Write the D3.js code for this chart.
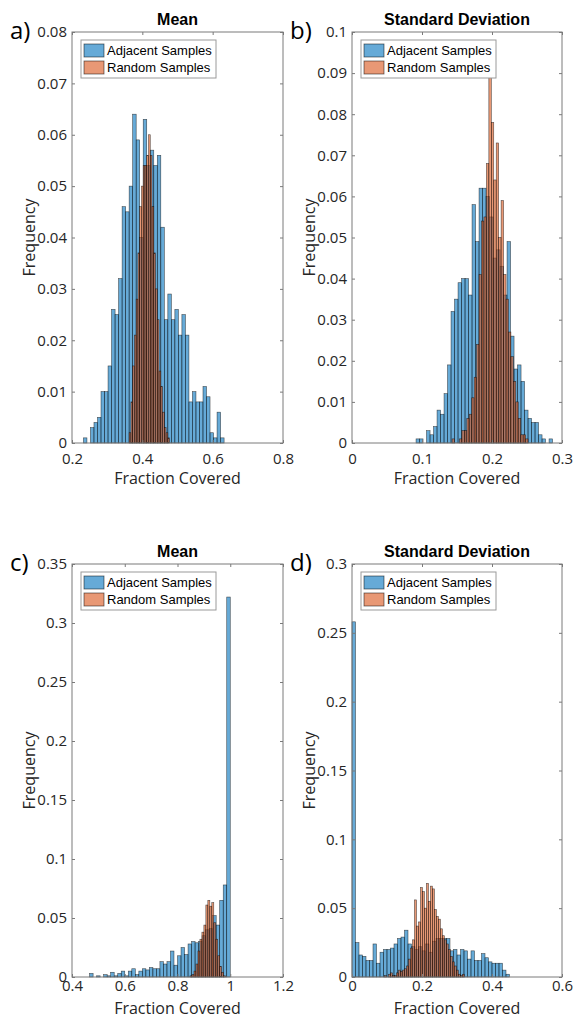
<!DOCTYPE html>
<html>
<head>
<meta charset="utf-8">
<script src="https://cdn.jsdelivr.net/npm/d3@7"></script>
<style>
body { margin: 0; background: #fff; }
.tick text { font-family: "Open Sans", "Liberation Sans", sans-serif; font-size: 15px; fill: #262626; }
.tick line { stroke: #7a7a7a; }
.lab { font-family: "Open Sans", "Liberation Sans", sans-serif; font-size: 16px; fill: #262626; }
.ttl { font-family: "Liberation Sans", Arial, sans-serif; font-size: 16px; font-weight: bold; fill: #000; }
.leg { font-family: "Liberation Sans", Arial, sans-serif; font-size: 13px; fill: #000; }
.pan { font-family: "Open Sans", sans-serif; font-size: 24px; fill: #000; }
</style>
</head>
<body>
<script>
// ---- data (frequency per bin) ----
// a) mean, top row
var aAdjStart = 0.2325, aAdjWidth = 0.01;
var aAdj = [0.001, 0, 0.003, 0.004, 0.005, 0.010, 0.010, 0.015, 0.026, 0.025,
            0.032, 0.046, 0.045, 0.050, 0.064, 0.059, 0.040, 0.063, 0.054, 0.057,
            0.054, 0.056, 0.042, 0.024, 0.029, 0.024, 0.026, 0.021, 0.025, 0.021,
            0.008, 0.010, 0.008, 0.008, 0.011, 0.009, 0.002, 0.001, 0.006, 0.001];
var aRndStart = 0.3625, aRndWidth = 0.005;
var aRnd = [0.002, 0.008, 0.015, 0.021, 0.028, 0.037, 0.046, 0.050, 0.054, 0.054,
            0.056, 0.060, 0.056, 0.046, 0.037, 0.030, 0.024, 0.014, 0.011, 0.006,
            0.003, 0.002, 0.001];

// b) standard deviation, top row
var bAdjStart = 0.0915, bAdjWidth = 0.005;
var bAdj = [0.001, 0.001, 0, 0.003, 0.002, 0.004, 0.008, 0.007, 0.012, 0.019,
            0.032, 0.035, 0.039, 0.040, 0.040, 0.036, 0.058, 0.049, 0.062, 0.062,
            0.060, 0.055, 0.045, 0.047, 0.043, 0.036, 0.049, 0.026, 0.018, 0.019,
            0.015, 0.008, 0.006, 0.005, 0.005, 0.002, 0.001, 0, 0.001];
var bRndStart = 0.1395, bRndWidth = 0.0035;
var bRnd = [0, 0.001, 0, 0, 0.001, 0.003, 0.003, 0.006, 0.007, 0.011,
            0.016, 0.024, 0.041, 0.054, 0.055, 0.068, 0.089, 0.078, 0.064, 0.073,
            0.050, 0.059, 0.041, 0.035, 0.027, 0.021, 0.015, 0.010, 0.006, 0.002,
            0.002, 0.001];

// c) mean, bottom row
var cAdjStart = 0.4667, cAdjWidth = 0.013333;
var cAdj = [0.003, 0, 0.001, 0, 0.002, 0.001, 0.004, 0.001, 0.003, 0.005,
            0.001, 0.005, 0.007, 0.002, 0.005, 0.007, 0.006, 0.008, 0.007, 0.007,
            0.013, 0.011, 0.013, 0.022, 0.010, 0.018, 0.025, 0.019, 0.028, 0.030,
            0.029, 0.030, 0.035, 0.040, 0.041, 0.052, 0.044, 0.065, 0.078, 0.322];
var cRndStart = 0.8475, cRndWidth = 0.0075;
var cRnd = [0.001, 0.002, 0.005, 0.011, 0.022, 0.032, 0.038, 0.044, 0.061, 0.065,
            0.060, 0.063, 0.046, 0.032, 0.018, 0.009, 0.004, 0.001];

// d) standard deviation, bottom row
var dAdjStart = 0, dAdjWidth = 0.01;
var dAdj = [0.258, 0.025, 0.016, 0.015, 0.012, 0.012, 0.024, 0.010, 0.018, 0.020,
            0.020, 0.021, 0.024, 0.028, 0.029, 0.034, 0.024, 0.022, 0.020, 0.022,
            0.019, 0.024, 0.018, 0.026, 0.028, 0.028, 0.028, 0.028, 0.019, 0.020,
            0.016, 0.020, 0.019, 0.013, 0.019, 0.012, 0.012, 0.017, 0.014, 0.011,
            0.010, 0.010, 0.010, 0.005, 0.002];
var dRndStart = 0.0930, dRndWidth = 0.0057;
var dRnd = [0.001, 0, 0.002, 0.003, 0.001, 0.001, 0.003, 0.005, 0.004, 0.005,
            0.006, 0.008, 0.013, 0.021, 0.027, 0.056, 0.037, 0.040, 0.065, 0.062,
            0.050, 0.068, 0.055, 0.066, 0.064, 0.049, 0.044, 0.042, 0.035, 0.030,
            0.027, 0.024, 0.020, 0.015, 0.011, 0.008, 0.005, 0.002, 0.001, 0.002];

var titles = ["Mean", "Standard Deviation", "Mean", "Standard Deviation"];
var panelLabels = ["a)", "b)", "c)", "d)"];
var seriesNames = ["Adjacent Samples", "Random Samples"];
var aXTicks = [0.2, 0.4, 0.6, 0.8], aYTicks = d3.range(0, 0.0801, 0.01);
var bXTicks = [0, 0.1, 0.2, 0.3], bYTicks = d3.range(0, 0.1001, 0.01);
var cXTicks = [0.4, 0.6, 0.8, 1, 1.2], cYTicks = d3.range(0, 0.3501, 0.05);
var dXTicks = [0, 0.2, 0.4, 0.6], dYTicks = d3.range(0, 0.3001, 0.05);

// ---- layout ----
var panels = [
  {left: 72, right: 283, top: 32, bottom: 443, xp: 10, xl: 41, xd: [0.2, 0.8], yd: [0, 0.08], xt: aXTicks, yt: aYTicks,
   adj: aAdj, adjS: aAdjStart, adjW: aAdjWidth, rnd: aRnd, rndS: aRndStart, rndW: aRndWidth},
  {left: 352, right: 562, top: 32, bottom: 443, xp: 10, xl: 41, xd: [0, 0.3], yd: [0, 0.1], xt: bXTicks, yt: bYTicks,
   adj: bAdj, adjS: bAdjStart, adjW: bAdjWidth, rnd: bRnd, rndS: bRndStart, rndW: bRndWidth},
  {left: 72, right: 283, top: 564, bottom: 977, xp: 3, xl: 37, xd: [0.4, 1.2], yd: [0, 0.35], xt: cXTicks, yt: cYTicks,
   adj: cAdj, adjS: cAdjStart, adjW: cAdjWidth, rnd: cRnd, rndS: cRndStart, rndW: cRndWidth},
  {left: 352, right: 562, top: 564, bottom: 977, xp: 3, xl: 37, xd: [0, 0.6], yd: [0, 0.3], xt: dXTicks, yt: dYTicks,
   adj: dAdj, adjS: dAdjStart, adjW: dAdjWidth, rnd: dRnd, rndS: dRndStart, rndW: dRndWidth}
];

var blue = "#0072bd", orange = "#d95319";
var fmt = d3.format("~g");

var svg = d3.select("body").append("svg")
    .attr("width", 574)
    .attr("height", 1019);

panels.forEach(function(p, k) {
  var x = d3.scaleLinear().domain(p.xd).range([p.left, p.right]);
  var y = d3.scaleLinear().domain(p.yd).range([p.bottom, p.top]);
  var g = svg.append("g");

  // histogram bars
  function bars(vals, start, w, col) {
    g.append("g").selectAll("rect")
      .data(vals.map(function(v, i) { return {v: v, x0: start + i * w, x1: start + (i + 1) * w}; })
                .filter(function(d) { return d.v > 0; }))
      .enter().append("rect")
        .attr("x", function(d) { return x(d.x0); })
        .attr("width", function(d) { return x(d.x1) - x(d.x0); })
        .attr("y", function(d) { return y(d.v); })
        .attr("height", function(d) { return y(0) - y(d.v); })
        .attr("fill", col)
        .attr("fill-opacity", 0.6)
        .attr("stroke", "#000")
        .attr("stroke-opacity", 0.65)
        .attr("stroke-width", 0.6);
  }
  bars(p.adj, p.adjS, p.adjW, blue);
  bars(p.rnd, p.rndS, p.rndW, orange);

  // axes, ticks inside on all four sides
  var ax = [
    {a: d3.axisBottom(x).tickValues(p.xt).tickFormat(fmt).tickPadding(p.xp), t: "translate(0," + p.bottom + ")"},
    {a: d3.axisTop(x).tickValues(p.xt).tickFormat(""), t: "translate(0," + p.top + ")"},
    {a: d3.axisLeft(y).tickValues(p.yt).tickFormat(fmt).tickPadding(5), t: "translate(" + p.left + ",0)"},
    {a: d3.axisRight(y).tickValues(p.yt).tickFormat(""), t: "translate(" + p.right + ",0)"}
  ];
  ax.forEach(function(o) {
    var ag = g.append("g").attr("transform", o.t)
      .call(o.a.tickSizeInner(-3).tickSizeOuter(0));
    ag.attr("font-family", null).attr("font-size", null);
    ag.select(".domain").remove();
  });

  g.append("rect")
    .attr("x", p.left).attr("y", p.top)
    .attr("width", p.right - p.left).attr("height", p.bottom - p.top)
    .attr("fill", "none").attr("stroke", "#7a7a7a").attr("stroke-width", 1);

  // labels
  g.append("text").attr("class", "ttl")
    .attr("x", (p.left + p.right) / 2).attr("y", p.top - 7)
    .attr("text-anchor", "middle").text(titles[k]);
  g.append("text").attr("class", "lab")
    .attr("x", (p.left + p.right) / 2).attr("y", p.bottom + p.xl)
    .attr("text-anchor", "middle").text("Fraction Covered");
  g.append("text").attr("class", "lab")
    .attr("transform", "translate(" + (p.left - 37) + "," + ((p.top + p.bottom) / 2) + ") rotate(-90)")
    .attr("text-anchor", "middle").text("Frequency");
  g.append("text").attr("class", "pan")
    .attr("x", p.left - 62).attr("y", p.top + 7)
    .text(panelLabels[k]);

  // legend
  var lx = p.left + 9, ly = p.top + 8;
  g.append("rect").attr("x", lx).attr("y", ly).attr("width", 135).attr("height", 38)
    .attr("fill", "#fff").attr("stroke", "#9a9a9a").attr("stroke-width", 1);
  [blue, orange].forEach(function(c, i) {
    g.append("rect").attr("x", lx + 3).attr("y", ly + 4 + i * 17).attr("width", 20).attr("height", 13)
      .attr("fill", c).attr("fill-opacity", 0.6)
      .attr("stroke", "#000").attr("stroke-opacity", 0.6).attr("stroke-width", 0.8);
    g.append("text").attr("class", "leg")
      .attr("x", lx + 26).attr("y", ly + 15 + i * 17)
      .text(seriesNames[i]);
  });
});
</script>
</body>
</html>
